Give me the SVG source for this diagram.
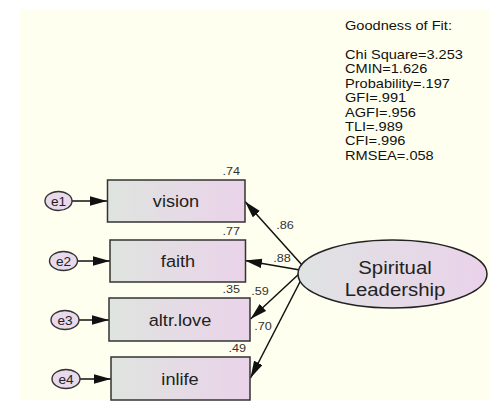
<svg xmlns="http://www.w3.org/2000/svg" width="490" height="403" viewBox="0 0 490 403">
<defs>
<linearGradient id="boxg" x1="0" y1="0" x2="1" y2="0">
<stop offset="0" stop-color="#dfe4df"/>
<stop offset="1" stop-color="#ead3ea"/>
</linearGradient>
<linearGradient id="ellg" x1="0" y1="0" x2="1" y2="0">
<stop offset="0" stop-color="#dfe3e3"/>
<stop offset="1" stop-color="#ead2ea"/>
</linearGradient>
<marker id="ah" markerUnits="userSpaceOnUse" markerWidth="18" markerHeight="10" refX="17" refY="4.75" orient="auto">
<path d="M0,0 L17,4.75 L0,9.5 z" fill="#111"/>
</marker>
</defs>
<style>
.box{fill:url(#boxg);stroke:#333;stroke-width:1.5}
.err{fill:#e9d9ec;stroke:#333;stroke-width:1.4}
.lat{fill:url(#ellg);stroke:#222;stroke-width:1.5}
.t{font-family:"Liberation Sans",Arial,sans-serif;fill:#222}
.lbl{font-size:16.5px;text-anchor:middle}
.elbl{font-size:13px;text-anchor:middle}
.num{font-size:11.5px;fill:#333}
.fit{font-size:13.5px;fill:#111}
.c{stroke:#111;stroke-width:1.5;fill:none;marker-end:url(#ah)}
</style>
<rect x="0" y="0" width="490" height="403" fill="#ffffff"/>
<rect x="20" y="9" width="470" height="391" fill="#fffff0"/>

<g id="fit" class="t fit" transform="translate(345,0) scale(1.08,1)">
<text x="0" y="30">Goodness of Fit:</text>
<text x="0" y="59">Chi Square=3.253</text>
<text x="0" y="73.4">CMIN=1.626</text>
<text x="0" y="87.8">Probability=.197</text>
<text x="0" y="102.2">GFI=.991</text>
<text x="0" y="116.6">AGFI=.956</text>
<text x="0" y="131">TLI=.989</text>
<text x="0" y="145.4">CFI=.996</text>
<text x="0" y="159.8">RMSEA=.058</text>
</g>

<g id="connectors">
<line class="c" x1="72" y1="201" x2="107" y2="201"/>
<line class="c" x1="78" y1="261" x2="110" y2="261"/>
<line class="c" x1="79" y1="320" x2="109" y2="320"/>
<line class="c" x1="80" y1="379" x2="111" y2="379"/>
<line class="c" x1="302" y1="265" x2="245" y2="201.5"/>
<line class="c" x1="300" y1="270" x2="245" y2="260.5"/>
<line class="c" x1="300" y1="273" x2="250.5" y2="319"/>
<line class="c" x1="302" y1="278" x2="250.5" y2="378"/>
<g class="t num">
<text transform="translate(285,229) scale(1.1,1)" text-anchor="middle">.86</text>
<text transform="translate(282,262) scale(1.1,1)" text-anchor="middle">.88</text>
<text transform="translate(260,295) scale(1.1,1)" text-anchor="middle">.59</text>
<text transform="translate(263,330) scale(1.1,1)" text-anchor="middle">.70</text>
</g>
</g>

<g id="e1"><ellipse class="err" cx="58.5" cy="201" rx="13.5" ry="9.5"/><text class="t elbl" transform="translate(58.5,205.5) scale(1.05,1)">e1</text></g>
<g id="e2"><ellipse class="err" cx="63.5" cy="261" rx="14" ry="9.5"/><text class="t elbl" transform="translate(63.5,265.5) scale(1.05,1)">e2</text></g>
<g id="e3"><ellipse class="err" cx="65" cy="320" rx="14" ry="9.5"/><text class="t elbl" transform="translate(65,324.5) scale(1.05,1)">e3</text></g>
<g id="e4"><ellipse class="err" cx="66" cy="379" rx="14" ry="9.5"/><text class="t elbl" transform="translate(66,383.5) scale(1.05,1)">e4</text></g>

<g id="vision"><rect class="box" x="107.5" y="180" width="137.5" height="42"/><text class="t lbl" transform="translate(176,207) scale(1.1,1)">vision</text><text class="t num" transform="translate(240,175) scale(1.1,1)" text-anchor="end">.74</text></g>
<g id="faith"><rect class="box" x="110" y="240" width="135.5" height="42"/><text class="t lbl" transform="translate(178,267) scale(1.1,1)">faith</text><text class="t num" transform="translate(240,235) scale(1.1,1)" text-anchor="end">.77</text></g>
<g id="altrlove"><rect class="box" x="109" y="298" width="141" height="43"/><text class="t lbl" transform="translate(180,325.5) scale(1.1,1)">altr.love</text><text class="t num" transform="translate(240,293) scale(1.1,1)" text-anchor="end">.35</text></g>
<g id="inlife"><rect class="box" x="111" y="357" width="139" height="43"/><text class="t lbl" transform="translate(180,384.5) scale(1.1,1)">inlife</text><text class="t num" transform="translate(246,352) scale(1.1,1)" text-anchor="end">.49</text></g>

<g id="spiritual"><ellipse class="lat" cx="392.5" cy="274" rx="94.5" ry="34"/>
<text class="t" font-size="18.5" text-anchor="middle" transform="translate(395,273.5) scale(1.1,1)">Spiritual</text>
<text class="t" font-size="18.5" text-anchor="middle" transform="translate(395,295.5) scale(1.1,1)">Leadership</text>
</g>
</svg>
